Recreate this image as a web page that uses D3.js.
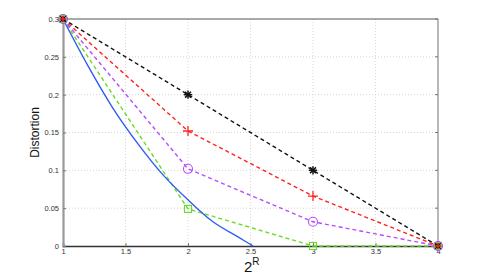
<!DOCTYPE html>
<html>
<head>
<meta charset="utf-8">
<script src="https://cdn.jsdelivr.net/npm/d3@7"></script>
<style>
  body { margin: 0; background: #fff; }
  svg { display: block; font-family: "Liberation Sans", Arial, sans-serif; }
</style>
</head>
<body>
<div class="container"></div>
<script>
// operating points, x = 2^R
var levels = [1, 2, 3, 4];
var blackVals = [0.3, 0.2, 0.1, 0];
var redVals = [0.3, 0.152, 0.066, 0];
var purpleVals = [0.3, 0.102, 0.032, 0];
var greenVals = [0.3, 0.049, 0, 0];

// bound curve
var curveX = [1, 1.2, 1.4, 1.6, 1.8, 2, 2.2, 2.4, 2.52];
var curveY = [0.3, 0.238, 0.182, 0.135, 0.094, 0.061, 0.032, 0.012, 0];

var xTicks = [1, 1.5, 2, 2.5, 3, 3.5, 4];
var yTicks = [0, 0.05, 0.1, 0.15, 0.2, 0.25, 0.3];

var W = 485, H = 277;
var padL = 63, padR = 438, padT = 19, padB = 246;

var svg = d3.select('.container').append('svg').attr('width', W).attr('height', H);

var x = d3.scaleLinear().domain([1, 4]).range([padL, padR]);
var y = d3.scaleLinear().domain([0, 0.3]).range([padB, padT]);

// grid
svg.append('g').selectAll('line').data(xTicks.slice(1, -1)).enter().append('line')
	.attr('x1', function(d){ return x(d) }).attr('x2', function(d){ return x(d) })
	.attr('y1', padT).attr('y2', padB)
	.attr('stroke', '#ccc').attr('stroke-width', 0.8).attr('stroke-dasharray', '1,2');
svg.append('g').selectAll('line').data(yTicks.slice(1, -1)).enter().append('line')
	.attr('x1', padL).attr('x2', padR)
	.attr('y1', function(d){ return y(d) }).attr('y2', function(d){ return y(d) })
	.attr('stroke', '#ccc').attr('stroke-width', 0.8).attr('stroke-dasharray', '1,2');

// frame
svg.append('line').attr('x1', padL).attr('x2', padR).attr('y1', padT).attr('y2', padT)
	.attr('stroke', '#555').attr('stroke-width', 1);
svg.append('line').attr('x1', padR).attr('x2', padR).attr('y1', padT).attr('y2', padB)
	.attr('stroke', '#888').attr('stroke-width', 1.2);

// axes
var xAxis = d3.axisBottom(x).tickValues(xTicks).tickSize(-3).tickPadding(3)
	.tickFormat(function(d){ return d3.format('')(d) });
var gx = svg.append('g').attr('transform', 'translate(0,' + padB + ')').call(xAxis);
gx.select('.domain').attr('stroke', '#333').attr('stroke-width', 1.5);
gx.selectAll('.tick line').attr('stroke', '#777');
gx.selectAll('.tick text').attr('font-size', 7.5).attr('fill', '#333');

var yAxis = d3.axisLeft(y).tickValues(yTicks).tickSize(-3).tickPadding(4)
	.tickFormat(function(d){ return d3.format('')(d) });
var gy = svg.append('g').attr('transform', 'translate(' + padL + ',0)').call(yAxis);
gy.select('.domain').attr('stroke', '#999').attr('stroke-width', 2.2);
gy.selectAll('.tick line').attr('stroke', '#777');
gy.selectAll('.tick text').attr('font-size', 7.5).attr('fill', '#333');

// right side ticks
svg.append('g').selectAll('line').data(yTicks).enter().append('line')
	.attr('x1', padR - 3).attr('x2', padR)
	.attr('y1', function(d){ return y(d) }).attr('y2', function(d){ return y(d) })
	.attr('stroke', '#777');

// labels
svg.append('text').attr('transform', 'translate(39,' + ((padT + padB) / 2) + ') rotate(-90)')
	.attr('text-anchor', 'middle').attr('font-size', 12).attr('fill', '#111').text('Distortion');
var xl = svg.append('text').attr('x', 244).attr('y', 272).attr('font-size', 15).attr('fill', '#111');
xl.append('tspan').text('2');
xl.append('tspan').attr('dy', -7).attr('font-size', 10).text('R');

var line = d3.line().x(function(d){ return x(d[0]) }).y(function(d){ return y(d[1]) });

var series = [
	{ vals: blackVals, color: '#111', marker: 'star' },
	{ vals: redVals, color: '#ff2222', marker: 'plus' },
	{ vals: greenVals, color: '#66dd22', marker: 'square' },
	{ vals: purpleVals, color: '#b84cff', marker: 'circle' }
];

series.forEach(function(s){
	var pts = levels.map(function(l, i){ return [l, s.vals[i]] });
	svg.append('path').datum(pts).attr('d', line)
		.attr('fill', 'none').attr('stroke', s.color).attr('stroke-width', 1.4)
		.attr('stroke-dasharray', '4,3');
});

// solid bound curve
var cpts = curveX.map(function(v, i){ return [v, curveY[i]] });
svg.append('path').datum(cpts).attr('d', line.curve(d3.curveMonotoneX))
	.attr('fill', 'none').attr('stroke', '#2f5cf5').attr('stroke-width', 1.4);

// markers
series.forEach(function(s){
	var g = svg.append('g');
	levels.forEach(function(l, i){
		var cx = x(l), cy = y(s.vals[i]);
		if (s.marker == 'star') {
			[0, 45, 90, 135].forEach(function(a){
				var r = 4.2, rad = a * Math.PI / 180;
				g.append('line').attr('x1', cx - r * Math.cos(rad)).attr('y1', cy - r * Math.sin(rad))
					.attr('x2', cx + r * Math.cos(rad)).attr('y2', cy + r * Math.sin(rad))
					.attr('stroke', s.color).attr('stroke-width', 1.5);
			});
		} else if (s.marker == 'plus') {
			g.append('path').attr('d', 'M' + (cx - 5) + ',' + cy + 'H' + (cx + 5) + 'M' + cx + ',' + (cy - 5) + 'V' + (cy + 5))
				.attr('stroke', s.color).attr('stroke-width', 1.3);
		} else if (s.marker == 'square') {
			g.append('rect').attr('x', cx - 3.5).attr('y', cy - 3.5).attr('width', 7).attr('height', 7)
				.attr('fill', 'none').attr('stroke', s.color).attr('stroke-width', 1.1);
		} else {
			g.append('circle').attr('cx', cx).attr('cy', cy).attr('r', 4.5)
				.attr('fill', 'none').attr('stroke', s.color).attr('stroke-width', 1.1);
		}
	});
});
</script>
</body>
</html>
